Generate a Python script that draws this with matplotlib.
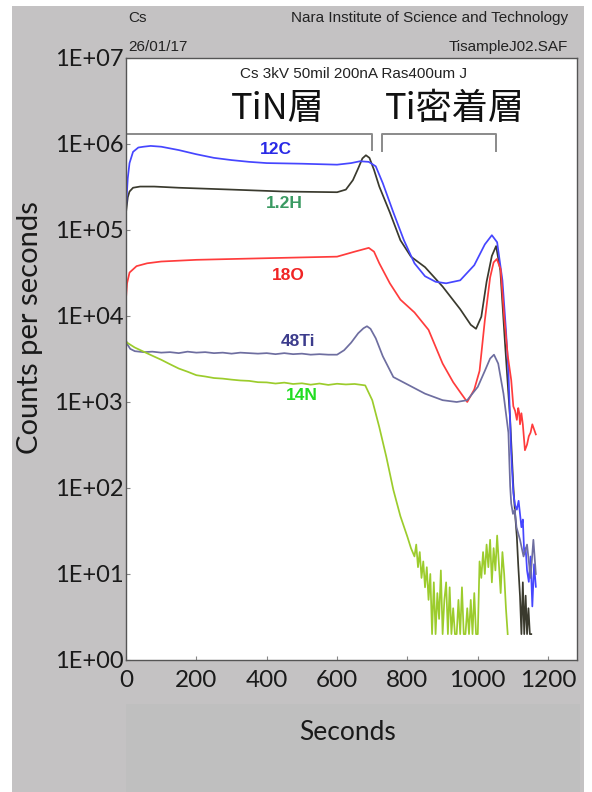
import matplotlib
matplotlib.use("Agg")
import matplotlib.pyplot as plt
from matplotlib.patches import Rectangle
from matplotlib.ticker import FixedLocator, FixedFormatter, NullLocator

W, H = 592, 792

# --- data (seconds, counts per second) ---
t_12c = [0, 5, 10, 20, 35, 50, 70, 100, 150, 200, 250, 300, 350, 400, 500, 600,
         640, 665, 690, 710, 730, 760, 790, 820, 850, 880, 910, 950, 990, 1020,
         1040, 1055, 1070, 1080, 1087, 1095, 1101, 1106, 1111, 1116, 1120, 1124,
         1128, 1132, 1136, 1140, 1145, 1150, 1155, 1160, 1165]
c_12c = [1.8e5, 4.0e5, 6.0e5, 8.1e5, 9.1e5, 9.3e5, 9.5e5, 9.3e5, 8.5e5, 7.6e5,
         6.9e5, 6.5e5, 6.2e5, 6.0e5, 5.9e5, 5.75e5, 6.0e5, 6.3e5, 6.2e5, 5.5e5,
         3.5e5, 1.6e5, 7.6e4, 4.1e4, 2.9e4, 2.5e4, 2.4e4, 2.6e4, 3.9e4, 6.8e4,
         8.7e4, 7.2e4, 2.6e4, 6.9e3, 2.3e3, 250, 87, 63, 56, 71, 50, 35,
         43, 17, 20, 11, 8.1, 16, 4.2, 13, 7.1]

t_h = [0, 5, 10, 20, 40, 80, 150, 300, 450, 600, 625, 645, 660, 672, 682, 692,
       705, 720, 750, 780, 810, 850, 900, 950, 980, 995, 1010, 1025, 1040, 1052,
       1064, 1078, 1092, 1101, 1106, 1111, 1115, 1120, 1124, 1128, 1132, 1136,
       1140, 1144, 1148, 1152]
c_h = [1.6e5, 2.4e5, 2.8e5, 3.1e5, 3.2e5, 3.2e5, 3.1e5, 2.95e5, 2.8e5, 2.75e5,
       2.95e5, 3.8e5, 5.2e5, 6.8e5, 7.4e5, 6.9e5, 5.0e5, 3.2e5, 1.6e5, 7.6e4,
       4.9e4, 3.7e4, 2.2e4, 1.2e4, 7.9e3, 7.1e3, 9.8e3, 2.5e4, 5.0e4, 6.5e4,
       3.4e4, 4.4e3, 620, 105, 50, 27, 12.6, 5.5, 2, 8, 2, 5.6,
       2, 4, 2, 2]

t_18o = [0, 3, 10, 30, 60, 100, 200, 300, 400, 500, 600, 650, 690, 705, 720, 750,
         780, 820, 860, 900, 930, 950, 970, 990, 1005, 1020, 1035, 1045, 1054,
         1065, 1075, 1085, 1095, 1101, 1106, 1111, 1115, 1118, 1120, 1124, 1128,
         1134, 1140, 1145, 1150, 1155, 1160, 1165]
c_18o = [1.6e4, 2.4e4, 3.2e4, 3.8e4, 4.1e4, 4.3e4, 4.5e4, 4.6e4, 4.7e4, 4.8e4,
         4.9e4, 5.6e4, 6.2e4, 5.6e4, 4.1e4, 2.4e4, 1.55e4, 1.1e4, 6.9e3, 2.8e3,
         1.7e3, 1.3e3, 1.0e3, 1.4e3, 2.3e3, 8.9e3, 2.8e4, 4.2e4, 4.6e4, 3.5e4,
         9.8e3, 3.5e3, 1.8e3, 890, 790, 620, 850, 740, 550, 740, 550,
         275, 320, 400, 440, 550, 480, 420]

t_48ti = [0, 5, 12, 25, 50, 75, 100, 125, 150, 175, 200, 225, 250, 275, 300, 325,
          350, 375, 400, 425, 450, 475, 500, 525, 550, 575, 600, 620, 640, 660,
          675, 685, 695, 710, 730, 760, 800, 850, 900, 940, 970, 1000, 1020,
          1035, 1046, 1058, 1073, 1087, 1092, 1095, 1100, 1105, 1110, 1120,
          1130, 1140, 1150, 1158, 1165]
c_48ti = [5200, 4600, 4150, 3900, 3800, 3850, 3750, 3800, 3700, 3850, 3750, 3800,
          3700, 3750, 3650, 3750, 3700, 3650, 3700, 3600, 3700, 3600, 3650, 3550,
          3600, 3550, 3550, 4000, 4900, 6300, 7200, 7600, 7100, 5500, 3400, 1950,
          1600, 1250, 1050, 1000, 1050, 1500, 2300, 3200, 3550, 2800, 1250, 440,
          105, 66, 50, 56, 35, 25, 16, 22, 9, 25, 10]

t_14n = [0, 10, 25, 50, 75, 100, 125, 150, 175, 200, 225, 250, 275, 300, 325, 350,
         375, 400, 425, 450, 475, 500, 525, 550, 575, 600, 625, 650, 680, 700,
         720, 740, 760, 780, 800, 810, 820, 825, 830, 835, 840, 845, 850, 855,
         860, 865, 870, 875, 880, 885, 890, 895, 900, 905, 910, 915, 920, 925,
         930, 935, 940, 945, 950, 955, 960, 965, 970, 975, 980, 985, 990, 995,
         1000, 1005, 1010, 1015, 1020, 1025, 1030, 1035, 1040, 1045, 1050, 1055,
         1060, 1065, 1070, 1075, 1080, 1085]
c_14n = [5000, 4700, 4300, 3850, 3450, 3100, 2750, 2450, 2250, 2050, 1980, 1900,
         1870, 1820, 1780, 1760, 1700, 1690, 1640, 1680, 1620, 1650, 1590, 1640,
         1580, 1630, 1600, 1620, 1560, 1050, 510, 230, 95, 47, 27, 20, 16, 22,
         12, 18, 9, 14, 7, 12, 5, 10, 2, 8, 2, 6, 3, 11, 2, 5, 8, 2, 7, 2,
         4, 2, 2, 5, 2, 7, 2, 2, 4, 2, 5, 2, 6, 2, 2, 14, 9, 18, 10, 22,
         12, 25, 8, 20, 11, 28, 13, 6, 18, 10, 4, 2]

series = [
    (t_h, c_h, "#3a3a2e"),
    (t_12c, c_12c, "#4646ff"),
    (t_18o, c_18o, "#ff3c3c"),
    (t_48ti, c_48ti, "#6e6ea0"),
    (t_14n, c_14n, "#9ccc2c"),
]

y_ticks = [1, 10, 100, 1e3, 1e4, 1e5, 1e6, 1e7]
y_labels = ["1E+00", "1E+01", "1E+02", "1E+03", "1E+04", "1E+05", "1E+06", "1E+07"]
x_ticks = [0, 200, 400, 600, 800, 1000, 1200]


def fx(x):
    return x / W


def fy(y):
    return 1 - y / H


fig = plt.figure(figsize=(W / 100, H / 100), dpi=100)
fig.patch.set_facecolor("white")
# grey slide background
fig.patches.append(Rectangle((fx(12), 0), fx(584) - fx(12), fy(6), transform=fig.transFigure,
                             facecolor="#c4c2c3", edgecolor="none", zorder=-5))
fig.patches.append(Rectangle((fx(126), 0), fx(580) - fx(126), fy(704), transform=fig.transFigure,
                             facecolor="#bfbfbf", edgecolor="none", zorder=-4))

AX_L, AX_R, AX_T, AX_B = 126, 577, 58, 660
ax = fig.add_axes([fx(AX_L), fy(AX_B), fx(AX_R) - fx(AX_L), fy(AX_T) - fy(AX_B)])
ax.set_zorder(2)
ax.set_facecolor("white")
for t, c, col in series:
    ax.plot(t, c, color=col, lw=1.25)

ax.set_yscale("log")
ax.set_ylim(1, 1e7)
ax.set_xlim(0, 1282)
ax.yaxis.set_major_locator(FixedLocator(y_ticks))
ax.yaxis.set_major_formatter(FixedFormatter(y_labels))
ax.yaxis.set_minor_locator(NullLocator())
ax.set_xticks(x_ticks)
ax.tick_params(axis="both", direction="in", length=3, color="#888888", width=0.8,
               labelcolor="#1a1a1a")
ax.tick_params(axis="y", pad=2, labelsize=17)
ax.tick_params(axis="x", pad=7, labelsize=17.5)
for lab in ax.get_xticklabels() + ax.get_yticklabels():
    lab.set_family("Lato")
for s in ax.spines.values():
    s.set_color("#555555")
    s.set_linewidth(1.0)

ax.set_ylabel("Counts per seconds", family="Lato", fontsize=21, color="#1a1a1a", va="center")
ax.yaxis.set_label_coords((30 - AX_L) / (AX_R - AX_L), (AX_B - 328) / (AX_B - AX_T))
ax.set_xlabel("Seconds", family="Lato", fontsize=19, color="#1a1a1a", va="center")
ax.xaxis.set_label_coords((348 - AX_L) / (AX_R - AX_L), (AX_B - 732) / (AX_B - AX_T))

# layer brackets
br = dict(color="#8a8a8a", lw=1.4, transform=fig.transFigure, clip_on=False)
ax.plot([fx(127), fx(372), fx(372)], [fy(134), fy(134), fy(150)], **br)
ax.plot([fx(382), fx(382), fx(496), fx(496)], [fy(151), fy(134), fy(134), fy(151)], **br)

# instrument header
hdr = dict(family="Liberation Sans", fontsize=11, color="#222222", va="center")
fig.text(fx(128), fy(18), "Cs", ha="left", **hdr)
fig.text(fx(568), fy(18), "Nara Institute of Science and Technology", ha="right", **hdr)
fig.text(fx(128), fy(47), "26/01/17", ha="left", **hdr)
fig.text(fx(568), fy(47), "TisampleJ02.SAF", ha="right", **hdr)


# texts inside the plot box go on the axes so they sit above its white face
def atext(x, y, s, **kw):
    ax.text(fx(x), fy(y), s, transform=fig.transFigure, clip_on=False, **kw)


atext(353, 74, "Cs 3kV 50mil 200nA Ras400um J", ha="center", **hdr)

jp = dict(family=["Noto Sans CJK JP", "DejaVu Sans"], fontsize=26, color="#111111",
          ha="center", va="center")
atext(278, 109, "TiN層", **jp)
atext(455, 109, "Ti密着層", **jp)

lab = dict(family="Liberation Sans", fontsize=12.5, fontweight="bold", ha="center", va="center")
atext(276, 149, "12C", color="#2a2ae6", **lab)
atext(284, 204, "1.2H", color="#3a9a62", **lab)
atext(288, 275, "18O", color="#f02424", **lab)
atext(298, 341, "48Ti", color="#3c3c8c", **lab)
atext(302, 395, "14N", color="#22dd22", **lab)

fig.savefig("out.png", dpi=100)
